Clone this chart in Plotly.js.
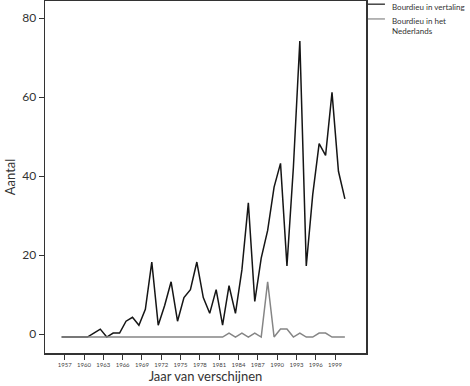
<!DOCTYPE html>
<html>
<head>
<meta charset="utf-8">
<script src="https://cdn.plot.ly/plotly-3.0.1.min.js"></script>
<style>html,body{margin:0;padding:0;background:#fff;}#chart{width:470px;height:386px;}</style>
</head>
<body>
<div id="chart"></div>
<script>
const years = [1957,1958,1959,1960,1961,1962,1963,1964,1965,1966,1967,1968,1969,1970,1971,1972,1973,1974,1975,1976,1977,1978,1979,1980,1981,1982,1983,1984,1985,1986,1987,1988,1989,1990,1991,1992,1993,1994,1995,1996,1997,1998,1999,2000,2001];
const vertaling = [0,0,0,0,0,1,2,0,1,1,4,5,3,7,19,3,8,14,4,10,12,19,10,6,12,3,13,6,17,34,9,20,27,38,44,18,43,75,18,36,49,46,62,42,35];
const nederlands = [0,0,0,0,0,0,0,0,0,0,0,0,0,0,0,0,0,0,0,0,0,0,0,0,0,0,1,0,1,0,1,0,14,0,2,2,0,1,0,0,1,1,0,0,0];
const xTickLabels = ["1957","1960","1963","1966","1969","1972","1975","1978","1981","1984","1987","1990","1993","1996","1999"];
const yTickLabels = ["0","20","40","60","80"];
const seriesNames = ["Bourdieu in vertaling", "Bourdieu in het<br>Nederlands"];

// the reference draws its lines slightly offset from its tick marks
const xOffset = 0.47, yOffset = 0.76;
const xTickVals = xTickLabels.map(t => Number(t) + xOffset);
const yTickVals = yTickLabels.map(t => Number(t) + yOffset);

const col1 = '#151515', col2 = '#858585';
const font = 'Lato, "Open Sans", sans-serif';

const traces = [
  {x: years, y: vertaling, type: 'scatter', mode: 'lines', name: seriesNames[0],
   line: {color: col1, width: 1.5}, showlegend: false},
  {x: years, y: nederlands, type: 'scatter', mode: 'lines', name: seriesNames[1],
   line: {color: col2, width: 1.5}, showlegend: false}
];

const layout = {
  width: 470, height: 386,
  margin: {l: 45, r: 104, t: 1, b: 33},
  paper_bgcolor: '#fff', plot_bgcolor: '#fff',
  font: {family: font, color: '#333'},
  xaxis: {
    range: [1954.41, 2004.28], tickvals: xTickVals, ticktext: xTickLabels,
    ticks: 'outside', ticklen: 5, tickwidth: 1, tickcolor: '#333',
    tickfont: {size: 6, color: '#444'},
    showgrid: false, zeroline: false, showline: true, linecolor: '#333', linewidth: 1.5, mirror: true,
    title: {text: 'Jaar van verschijnen', font: {size: 13, color: '#333'}, standoff: 3},
    automargin: false
  },
  yaxis: {
    range: [-4.05, 85.14], tickvals: yTickVals, ticktext: yTickLabels,
    ticks: 'outside', ticklen: 5, tickwidth: 1, tickcolor: '#333',
    tickfont: {size: 12, color: '#333'},
    showgrid: false, zeroline: false, showline: true, linecolor: '#333', linewidth: 1.5, mirror: true,
    title: {text: 'Aantal', font: {size: 13, color: '#333'}, standoff: 3},
    automargin: false
  },
  shapes: [
    {type: 'line', xref: 'paper', yref: 'paper', x0: 1.006, x1: 1.059, y0: 0.991, y1: 0.991, line: {color: col1, width: 1.2}},
    {type: 'line', xref: 'paper', yref: 'paper', x0: 1.006, x1: 1.059, y0: 0.949, y1: 0.949, line: {color: col2, width: 1.2}}
  ],
  annotations: [
    {xref: 'paper', yref: 'paper', x: 1.075, y: 0.983, xanchor: 'left', yanchor: 'middle', align: 'left',
     text: seriesNames[0], showarrow: false, font: {size: 8, color: '#333'}},
    {xref: 'paper', yref: 'paper', x: 1.075, y: 0.928, xanchor: 'left', yanchor: 'middle', align: 'left',
     text: seriesNames[1], showarrow: false, font: {size: 8, color: '#333'}}
  ]
};

Plotly.newPlot('chart', traces, layout, {displayModeBar: false, staticPlot: true});
</script>
</body>
</html>
